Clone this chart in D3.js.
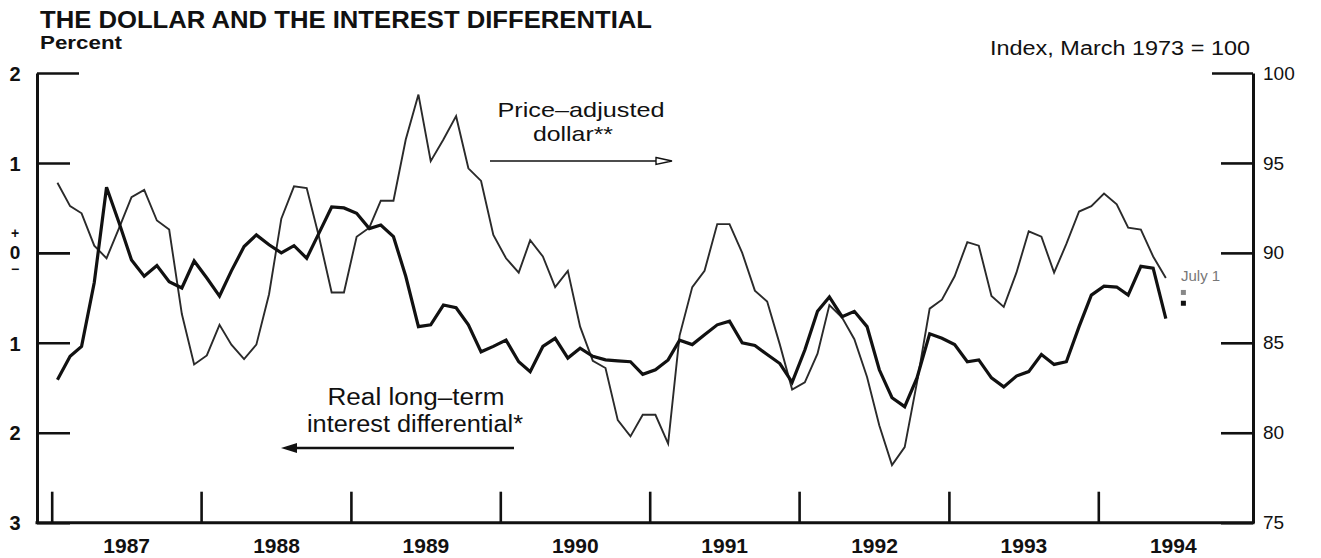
<!DOCTYPE html>
<html><head><meta charset="utf-8">
<script src="https://cdn.jsdelivr.net/npm/d3@7/dist/d3.min.js"></script>
<style>
body{margin:0;background:#fff}
svg{display:block}
text{font-family:"Liberation Sans",Arial,Helvetica,sans-serif;fill:#111}
</style>
</head><body>
<svg id="c" width="1321" height="558"></svg>
<script>
// ---------------- data ----------------
const titleText = "THE DOLLAR AND THE INTEREST DIFFERENTIAL";
const leftUnit = "Percent";
const rightUnit = "Index, March 1973 = 100";
const dollarLabel = ["Price\u2013adjusted", "dollar**"];
const interestLabel = ["Real long\u2013term", "interest differential*"];
const lastNote = "July 1";
const yearLabels = ["1987","1988","1989","1990","1991","1992","1993","1994"];
const leftTicks = [2, 1, 0, -1, -2, -3];
const leftTickLabels = ["2", "1", "0", "1", "2", "3"];
const rightTicks = [100, 95, 90, 85, 80, 75];
const firstMonth = "1987-01";
const lastMonth = "1994-06";
// Real long-term interest differential, percent (left axis), monthly
const interest = [
 -1.41,-1.15,-1.04,-0.33, 0.73, 0.33,-0.08,-0.26,-0.14,-0.32,-0.39,-0.09,
 -0.28,-0.48,-0.20, 0.07, 0.20, 0.09, 0.00, 0.08,-0.06, 0.22, 0.51, 0.50,
  0.44, 0.27, 0.31, 0.18,-0.26,-0.82,-0.80,-0.58,-0.61,-0.80,-1.10,-1.04,
 -0.97,-1.21,-1.32,-1.04,-0.95,-1.17,-1.06,-1.15,-1.19,-1.20,-1.21,-1.35,
 -1.30,-1.19,-0.97,-1.02,-0.91,-0.80,-0.76,-1.00,-1.03,-1.13,-1.23,-1.44,
 -1.08,-0.65,-0.49,-0.71,-0.65,-0.82,-1.30,-1.61,-1.71,-1.39,-0.90,-0.95,
 -1.02,-1.21,-1.19,-1.39,-1.49,-1.37,-1.32,-1.13,-1.24,-1.21,-0.82,-0.47,
 -0.37,-0.38,-0.47,-0.15,-0.17,-0.73
];
// Price-adjusted dollar, index March 1973 = 100 (right axis), monthly
const dollar = [
 93.9,92.6,92.2,90.4,89.7,91.4,93.1,93.5,91.8,91.3,86.6,83.8,
 84.3,86.0,84.9,84.1,84.9,87.7,91.9,93.7,93.6,90.9,87.8,87.8,
 90.9,91.4,92.9,92.9,96.3,98.8,95.1,96.3,97.6,94.7,94.0,91.0,
 89.7,88.9,90.7,89.8,88.1,89.0,85.9,84.0,83.6,80.7,79.8,81.0,
 81.0,79.4,85.4,88.1,89.0,91.6,91.6,90.0,87.9,87.3,84.9,82.4,
 82.8,84.4,87.1,86.4,85.2,83.1,80.4,78.2,79.2,82.8,86.9,87.4,
 88.7,90.6,90.4,87.6,87.0,88.9,91.2,90.9,88.9,90.5,92.3,92.6,
 93.3,92.7,91.4,91.3,89.8,88.6
];
const julyDollar = 87.8;
const julyInterest = -0.56;

// ---------------- scales ----------------
const parseM = d3.timeParse("%Y-%m");
const months = d3.timeMonth.range(parseM(firstMonth), d3.timeMonth.offset(parseM(lastMonth), 1))
  .map(m => d3.timeDay.offset(m, 14));
const interestData = months.map((d, i) => ({date: d, v: interest[i]}));
const dollarData = months.map((d, i) => ({date: d, v: dollar[i]}));

const L = 37, R = 1253, T = 73, B = 522.7;
const x = d3.scaleTime()
  .domain([new Date(+yearLabels[0], 0, 1), new Date(+yearLabels[yearLabels.length - 1], 0, 1)])
  .range([51.7, 1098.3]);
const yL = d3.scaleLinear().domain([-3, 2]).range([B, T]);
const yR = d3.scaleLinear().domain([75, 100]).range([B, T]);

const svg = d3.select("#c");

// ---------------- titles ----------------
svg.append("text").attr("x", 40).attr("y", 27.5).attr("font-size", 24).attr("font-weight", "bold")
  .attr("textLength", 612).attr("lengthAdjust", "spacingAndGlyphs").text(titleText);
svg.append("text").attr("x", 40).attr("y", 49).attr("font-size", 18).attr("font-weight", "bold")
  .attr("textLength", 82).attr("lengthAdjust", "spacingAndGlyphs").text(leftUnit);
svg.append("text").attr("x", 990).attr("y", 55).attr("font-size", 20)
  .attr("textLength", 260).attr("lengthAdjust", "spacingAndGlyphs").text(rightUnit);

// ---------------- axes ----------------
const gL = svg.append("g").attr("transform", `translate(${L},0)`)
  .call(d3.axisLeft(yL).tickValues(leftTicks).tickSizeInner(-33).tickSizeOuter(0)
    .tickPadding(22).tickFormat((d, i) => leftTickLabels[i]));
gL.select(".domain").attr("stroke-width", 3).attr("stroke", "#111");
gL.selectAll(".tick line").attr("stroke-width", 2.6).attr("stroke", "#111")
  .attr("x2", d => d === leftTicks[0] ? 42 : 33);
gL.selectAll(".tick text").attr("text-anchor", "middle").attr("font-size", 20)
  .attr("font-weight", "bold").attr("font-family", null).attr("fill", "#111").attr("dy", "0.36em");
// zero label drawn as "+ 0 −" stacked in one text element
const zeroText = gL.selectAll(".tick").filter(d => d === 0).select("text");
const zeroLabel = zeroText.text();
zeroText.text(null).attr("dy", null).attr("y", null);
zeroText.append("tspan").attr("x", -22).attr("y", -15).attr("font-size", 14).text("+");
zeroText.append("tspan").attr("x", -22).attr("y", 6).attr("font-size", 19).text(zeroLabel);
zeroText.append("tspan").attr("x", -22).attr("y", 21).attr("font-size", 14).text("\u2212");

const gR = svg.append("g").attr("transform", `translate(${R},0)`)
  .call(d3.axisRight(yR).tickValues(rightTicks).tickSizeInner(-32).tickSizeOuter(0).tickPadding(10));
gR.select(".domain").attr("stroke-width", 3).attr("stroke", "#111");
gR.selectAll(".tick line").attr("stroke-width", 2.6).attr("stroke", "#111")
  .attr("x2", d => d === rightTicks[0] ? -41 : -32);
gR.selectAll(".tick text").attr("font-size", 19).attr("font-family", null).attr("fill", "#111");

// bottom axis: year boundary ticks
const yearStarts = yearLabels.map(y => new Date(+y, 0, 1));
const gX = svg.append("g").attr("transform", `translate(0,${B})`)
  .call(d3.axisBottom(x).tickValues(yearStarts).tickSizeInner(-31).tickSizeOuter(0).tickFormat(""));
gX.select(".domain").remove();
gX.selectAll(".tick line").attr("stroke-width", 2.6).attr("stroke", "#111");
svg.append("line").attr("x1", L - 1.5).attr("x2", R + 1.5).attr("y1", B).attr("y2", B)
  .attr("stroke", "#111").attr("stroke-width", 3);
// year labels at mid-year
const gXL = svg.append("g").attr("transform", `translate(0,${B})`)
  .call(d3.axisBottom(x).tickValues(yearLabels.map(y => new Date(+y, 6, 2)))
    .tickSize(0).tickPadding(15).tickFormat((d, i) => yearLabels[i]));
gXL.select(".domain").remove();
gXL.selectAll(".tick text").attr("font-size", 21).attr("font-weight", "bold")
  .attr("font-family", null).attr("fill", "#111");

// ---------------- lines ----------------
const lineL = d3.line().x(d => x(d.date)).y(d => yL(d.v));
const lineR = d3.line().x(d => x(d.date)).y(d => yR(d.v));
svg.append("path").datum(dollarData).attr("d", lineR).attr("fill", "none")
  .attr("stroke", "#2a2a2a").attr("stroke-width", 1.9).attr("stroke-linejoin", "miter");
svg.append("path").datum(interestData).attr("d", lineL).attr("fill", "none")
  .attr("stroke", "#111").attr("stroke-width", 3.2).attr("stroke-linejoin", "miter");

// July 1 readings
const xJuly = x(new Date(1994, 6, 1)) + 11;
svg.append("rect").attr("x", xJuly - 2.5).attr("y", yR(julyDollar) - 2.5).attr("width", 5).attr("height", 5)
  .attr("fill", "#888");
svg.append("rect").attr("x", xJuly - 2.5).attr("y", yL(julyInterest) - 2.5).attr("width", 5).attr("height", 5)
  .attr("fill", "#111");
svg.append("text").attr("x", 1181).attr("y", 281).attr("font-size", 15)
  .style("fill", "#777").text(lastNote);

// ---------------- annotations ----------------
svg.append("text").attr("x", 581).attr("y", 116.5).attr("text-anchor", "middle").attr("font-size", 21)
  .attr("textLength", 167).attr("lengthAdjust", "spacingAndGlyphs").text(dollarLabel[0]);
svg.append("text").attr("x", 573).attr("y", 141).attr("text-anchor", "middle").attr("font-size", 21)
  .attr("textLength", 80).attr("lengthAdjust", "spacingAndGlyphs").text(dollarLabel[1]);
svg.append("line").attr("x1", 490).attr("x2", 660).attr("y1", 161).attr("y2", 161)
  .attr("stroke", "#111").attr("stroke-width", 1.6);
svg.append("path").attr("d", "M656,157.5 L672,161 L656,164.5 Z").attr("fill", "#fff")
  .attr("stroke", "#111").attr("stroke-width", 1.4);

svg.append("text").attr("x", 416).attr("y", 404.5).attr("text-anchor", "middle").attr("font-size", 23)
  .attr("textLength", 177).attr("lengthAdjust", "spacingAndGlyphs").text(interestLabel[0]);
svg.append("text").attr("x", 415).attr("y", 432).attr("text-anchor", "middle").attr("font-size", 23)
  .attr("textLength", 216).attr("lengthAdjust", "spacingAndGlyphs").text(interestLabel[1]);
svg.append("line").attr("x1", 292).attr("x2", 514).attr("y1", 448).attr("y2", 448)
  .attr("stroke", "#111").attr("stroke-width", 2.6);
svg.append("path").attr("d", "M281,448 L297,443 L297,453 Z").attr("fill", "#111");
</script>
</body></html>
